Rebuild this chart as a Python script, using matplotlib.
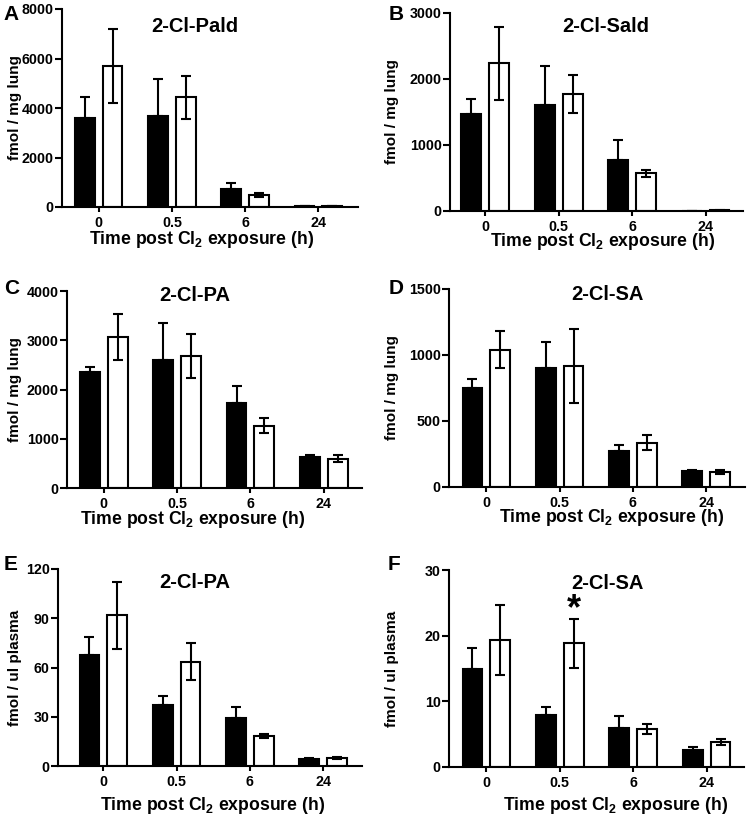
import numpy as np
import matplotlib
matplotlib.use('Agg')
import matplotlib.pyplot as plt

plt.rcParams['font.family'] = ['Liberation Sans', 'DejaVu Sans']
plt.rcParams['font.weight'] = 'bold'
plt.rcParams['mathtext.default'] = 'regular'

times = ['0', '0.5', '6', '24']

# A: 2-Cl-Pald, lung
pald_lung_black = [3600, 3680, 720, 30]
pald_lung_black_err = [860, 1480, 250, 10]
pald_lung_white = [5690, 4430, 470, 40]
pald_lung_white_err = [1490, 880, 85, 10]

# B: 2-Cl-Sald, lung
sald_lung_black = [1465, 1606, 773, 0]
sald_lung_black_err = [235, 590, 303, 0]
sald_lung_white = [2237, 1768, 570, 10]
sald_lung_white_err = [550, 290, 58, 3]

# C: 2-Cl-PA, lung
pa_lung_black = [2355, 2592, 1733, 623]
pa_lung_black_err = [105, 758, 331, 54]
pa_lung_white = [3066, 2680, 1266, 596]
pa_lung_white_err = [474, 453, 159, 71]

# D: 2-Cl-SA, lung
sa_lung_black = [749, 898, 273, 119]
sa_lung_black_err = [71, 197, 46, 12]
sa_lung_white = [1040, 918, 336, 114]
sa_lung_white_err = [142, 281, 57, 12]

# E: 2-Cl-PA, plasma
pa_plasma_black = [67.7, 36.9, 29.2, 4.5]
pa_plasma_black_err = [11.0, 5.7, 6.7, 0.5]
pa_plasma_white = [91.8, 63.4, 18.0, 5.1]
pa_plasma_white_err = [20.5, 11.3, 1.2, 0.6]

# F: 2-Cl-SA, plasma
sa_plasma_black = [14.95, 7.9, 6.0, 2.64]
sa_plasma_black_err = [3.15, 1.2, 1.8, 0.46]
sa_plasma_white = [19.3, 18.85, 5.83, 3.85]
sa_plasma_white_err = [5.3, 3.7, 0.77, 0.43]

letters = ['A', 'B', 'C', 'D', 'E', 'F']
titles = ['2-Cl-Pald', '2-Cl-Sald', '2-Cl-PA', '2-Cl-SA', '2-Cl-PA', '2-Cl-SA']
ylabels = ['fmol / mg lung'] * 4 + ['fmol / ul plasma'] * 2
yticks = [[0, 2000, 4000, 6000, 8000],
          [0, 1000, 2000, 3000],
          [0, 1000, 2000, 3000, 4000],
          [0, 500, 1000, 1500],
          [0, 30, 60, 90, 120],
          [0, 10, 20, 30]]
black_vals = [pald_lung_black, sald_lung_black, pa_lung_black,
              sa_lung_black, pa_plasma_black, sa_plasma_black]
black_errs = [pald_lung_black_err, sald_lung_black_err, pa_lung_black_err,
              sa_lung_black_err, pa_plasma_black_err, sa_plasma_black_err]
white_vals = [pald_lung_white, sald_lung_white, pa_lung_white,
              sa_lung_white, pa_plasma_white, sa_plasma_white]
white_errs = [pald_lung_white_err, sald_lung_white_err, pa_lung_white_err,
              sa_lung_white_err, pa_plasma_white_err, sa_plasma_white_err]

# layout in pixels: axes box (left, top, right, bottom)
W, H = 747, 817
boxes = [(62, 9, 358, 207), (450, 13, 743, 211),
         (67, 291, 362, 488), (449, 289, 745, 487),
         (58, 569, 362, 766), (449, 570, 744, 767)]
xlims = [(-0.50, 3.54), (-0.48, 3.51), (-0.50, 3.52),
         (-0.51, 3.53), (-0.62, 3.53), (-0.51, 3.51)]
title_pos = [(0.45, 0.91), (0.53, 0.93), (0.434, 0.975),
             (0.534, 0.97), (0.45, 0.934), (0.537, 0.934)]
xlabel_pos = [(202, 240), (603, 241), (193, 520), (612, 517), (213, 805), (616, 806)]
ylabel_x = [15, 392, 15, 392, 15, 392]
letter_pos = [(11, 14), (396, 14), (12, 289), (396, 289), (11, 564), (394, 564)]


def px_rect(l, t, r, b):
    return [l / W, 1 - b / H, (r - l) / W, (b - t) / H]


fig = plt.figure(figsize=(W / 100, H / 100), dpi=100)
x = np.arange(len(times))
off, bw = 0.19, 0.27

for i in range(6):
    ax = fig.add_axes(px_rect(*boxes[i]))
    bv, be = np.array(black_vals[i]), np.array(black_errs[i])
    wv, we = np.array(white_vals[i]), np.array(white_errs[i])

    ax.bar(x - off, bv, bw, color='black', edgecolor='black', linewidth=1.5, zorder=2)
    ax.bar(x + off, wv, bw, color='white', edgecolor='black', linewidth=1.5, zorder=2)
    # black bars: upper error only
    ax.errorbar(x - off, bv, yerr=[np.zeros_like(be), be], fmt='none', ecolor='black',
                elinewidth=1.5, capsize=3.6, capthick=1.5, zorder=3)
    ax.errorbar(x + off, wv, yerr=we, fmt='none', ecolor='black',
                elinewidth=1.5, capsize=3.6, capthick=1.5, zorder=3)

    ax.set_xlim(*xlims[i])
    ax.set_ylim(0, yticks[i][-1])
    ax.set_yticks(yticks[i])
    ax.set_xticks(x)
    ax.set_xticklabels(times)
    for s in ['top', 'right']:
        ax.spines[s].set_visible(False)
    for s in ['left', 'bottom']:
        ax.spines[s].set_linewidth(1.5)
        ax.spines[s].set_zorder(4)
    ax.tick_params(axis='y', length=5, width=1.5, labelsize=10.3, pad=1)
    ax.tick_params(axis='x', length=3.6, width=1.5, labelsize=10.3, pad=3)

    ax.text(title_pos[i][0], title_pos[i][1], titles[i], transform=ax.transAxes,
            ha='center', va='center', fontsize=14.5, fontweight='bold')

    l, t, r, b = boxes[i]
    fig.text(ylabel_x[i] / W, 1 - (t + b) / 2 / H, ylabels[i], rotation=90,
             ha='center', va='center', fontsize=11, fontweight='bold')
    fig.text(xlabel_pos[i][0] / W, 1 - xlabel_pos[i][1] / H,
             r'Time post Cl$_2$ exposure (h)',
             ha='center', va='center', fontsize=12.7, fontweight='bold')
    fig.text(letter_pos[i][0] / W, 1 - letter_pos[i][1] / H, letters[i],
             ha='center', va='center', fontsize=15, fontweight='bold')

    if i == 5:
        # significance marker above 0.5 h open bar
        ax.text(1 + off, 24.0, '*', ha='center', va='center',
                fontsize=26, fontweight='bold')

fig.savefig('out.png', dpi=100)
